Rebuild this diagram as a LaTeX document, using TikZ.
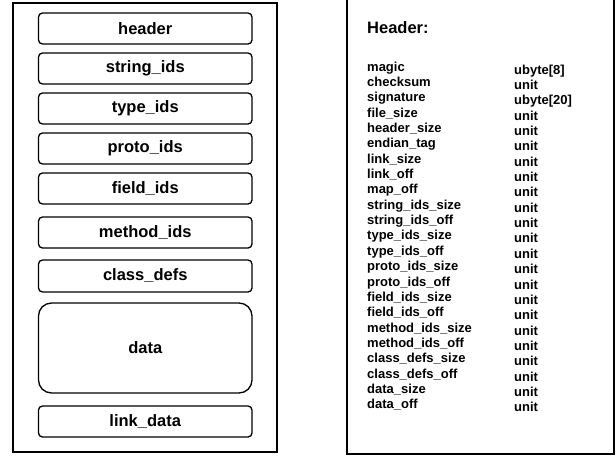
\documentclass[tikz,border=0pt]{standalone}
\usepackage{fontspec}
\setmainfont{Liberation Sans}
\begin{document}
\begin{tikzpicture}[x=1pt,y=-1pt,
		part/.style={draw,line width=1.3pt,rounded corners=4pt,minimum width=213.5pt,minimum height=31pt,inner sep=0pt,font=\fontsize{16.5}{18}\selectfont\bfseries},
		frame/.style={line width=1.5pt},
		fld/.style={anchor=base west,inner sep=0pt,font=\fontsize{13}{14}\selectfont\bfseries}]
	\useasboundingbox (0,0) rectangle (616,456);
	% dex file layout
	\draw[frame] (13,3) rectangle (277,452);
	\node[part] (hdr) at (145.25,28.5) {header};
	\node[part] (strids) at (145.25,68.5) {string\_ids};
	\node[part] (typids) at (145.25,108.5) {type\_ids};
	\node[part] (proids) at (145.25,148.5) {proto\_ids};
	\node[part] (fldids) at (145.25,188.5) {field\_ids};
	\node[part] (metids) at (145.25,232.5) {method\_ids};
	\node[part,minimum height=32pt] (clsdefs) at (145.25,276) {class\_defs};
	\node[part,minimum height=90pt,rounded corners=13pt] (dat) at (145.25,348) {data};
	\node[part] (lnkdat) at (145.25,421.5) {link\_data};
	% header fields
	\draw[frame] (347,-5) rectangle (614,454);
	\node[fld,font=\fontsize{16.5}{18}\selectfont\bfseries] (title) at (367,33) {Header:};
	\foreach \nm/\val [count=\i from 0] in {magic/ubyte[8],checksum/unit,signature/ubyte[20],file\_size/unit,header\_size/unit,endian\_tag/unit,link\_size/unit,link\_off/unit,map\_off/unit,string\_ids\_size/unit,string\_ids\_off/unit,type\_ids\_size/unit,type\_ids\_off/unit,proto\_ids\_size/unit,proto\_ids\_off/unit,field\_ids\_size/unit,field\_ids\_off/unit,method\_ids\_size/unit,method\_ids\_off/unit,class\_defs\_size/unit,class\_defs\_off/unit,data\_size/unit,data\_off/unit}
	{
		\node[fld] (f\i) at (367,71+15.36*\i) {\nm};
		\node[fld] (v\i) at (514,74+15.36*\i) {\val};
	}
\end{tikzpicture}
\end{document}
